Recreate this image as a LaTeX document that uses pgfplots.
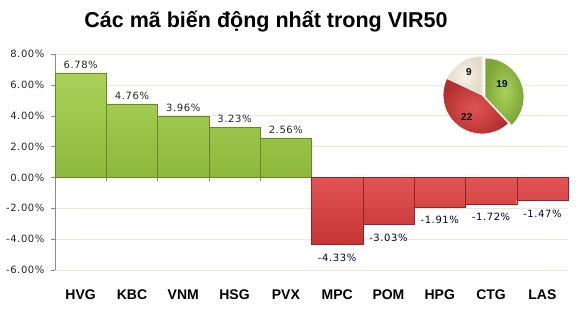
\documentclass[border=0pt]{standalone}
\usepackage{pgfplots}
\pgfplotsset{compat=1.18}
\usepackage{fontspec}
\setmainfont{Liberation Sans}
\newfontfamily\dv[LetterSpace=6]{DejaVu Sans}
\definecolor{gridc}{HTML}{EFE8D8}
\definecolor{axc}{HTML}{8C8C8C}
\definecolor{gtop}{HTML}{AAD25A}
\definecolor{gbot}{HTML}{8CB83C}
\definecolor{gedge}{HTML}{66882A}
\definecolor{rtop}{HTML}{E25454}
\definecolor{rbot}{HTML}{C63434}
\definecolor{redge}{HTML}{962222}
\definecolor{cream}{HTML}{F8F4E8}
\definecolor{creamo}{HTML}{E2DACA}
\begin{document}
\begin{tikzpicture}
\useasboundingbox (-55pt,-39pt) rectangle (522pt,270pt);
\begin{axis}[
  at={(0pt,0pt)}, anchor=south west,
  scale only axis, width=513pt, height=216pt,
  xmin=-0.5, xmax=9.5, ymin=-6, ymax=8,
  ytick={-6,-4,-2,0,2,4,6,8},
  yticklabels={-6.00\%,-4.00\%,-2.00\%,0.00\%,2.00\%,4.00\%,6.00\%,8.00\%},
  yticklabel style={font=\dv\fontsize{10}{12}\selectfont, color=black!85, xshift=-3pt},
  xtick={0,...,9},
  xticklabels={HVG,KBC,VNM,HSG,PVX,MPC,POM,HPG,CTG,LAS},
  xticklabel style={font=\bfseries\fontsize{14}{16}\selectfont, yshift=-12pt},
  major x tick style={draw=none},
  axis x line*=bottom, axis y line*=left,
  x axis line style={draw=none},
  y axis line style={draw=axc},
  ytick style={draw=axc},
  tick align=outside, major tick length=4pt,
  ymajorgrids, grid style={color=gridc, line width=0.6pt},
  clip=false,
  nodes near coords={\pgfplotspointmeta\%},
  point meta=explicit symbolic,
  every node near coord/.append style={font=\dv\fontsize{10}{12}\selectfont, color=black!85},
]
\foreach \b in {0.5,1.5,...,8.5} {\edef\tmp{\noexpand\draw[axc] (axis cs:\b,0) -- ++(0pt,-4pt);}\tmp}
\draw[axc!60] (axis cs:-0.5,0) -- (axis cs:9.5,0);
\addplot[ybar, bar width=1, bar shift=0pt, draw=gedge, top color=gtop, bottom color=gbot,
  every node near coord/.append style={yshift=1pt}]
  table[x=x, y=y, meta=m] {
x y m
0 6.78 6.78
1 4.76 4.76
2 3.96 3.96
3 3.23 3.23
4 2.56 2.56
};
\addplot[ybar, bar width=1, bar shift=0pt, draw=redge, top color=rtop, bottom color=rbot,
  every node near coord/.append style={anchor=north, yshift=-6pt, color=black!75!blue}]
  table[x=x, y=y, meta=m] {
x y m
5 -4.33 -4.33
6 -3.03 -3.03
7 -1.91 -1.91
8 -1.72 -1.72
9 -1.47 -1.47
};
\end{axis}
\node[font=\bfseries\fontsize{21.5}{24}\selectfont] at (211pt,248pt) {Các mã biến động nhất trong VIR50};
% pie inset
\begin{axis}[
  at={(427pt,175pt)}, anchor=center, hide axis,
  scale only axis, width=80pt, height=80pt,
  xmin=-1, xmax=1, ymin=-1, ymax=1, clip=false,
]
\pgfmathsetmacro\tot{19+22+9}
\pgfmathsetmacro\ag{90-360*19/\tot}
\pgfmathsetmacro\ar{\ag-360*22/\tot}
\fill[inner color=cream, outer color=creamo, draw=white, line width=0.8pt]
  (axis cs:0,0) -- ++(90:39pt) arc[start angle=90, end angle=\ar+360, radius=39pt] -- cycle;
\fill[inner color=rtop, outer color=rbot!90!black, draw=white, line width=0.8pt]
  (axis cs:0,0) -- ++(\ag:39pt) arc[start angle=\ag, end angle=\ar, radius=39pt] -- cycle;
\fill[inner color=gtop, outer color=gbot!90!black, draw=white, line width=0.8pt, xshift=3pt, yshift=-2pt]
  (axis cs:0,0) -- ++(90:39pt) arc[start angle=90, end angle=\ag, radius=39pt] -- cycle;
\node[font=\bfseries\fontsize{10}{12}\selectfont] at (axis cs:0.5,0.28) {19};
\node[font=\bfseries\fontsize{10}{12}\selectfont] at (axis cs:-0.38,-0.55) {22};
\node[font=\bfseries\fontsize{10}{12}\selectfont] at (axis cs:-0.33,0.58) {9};
\end{axis}
\end{tikzpicture}
\end{document}
